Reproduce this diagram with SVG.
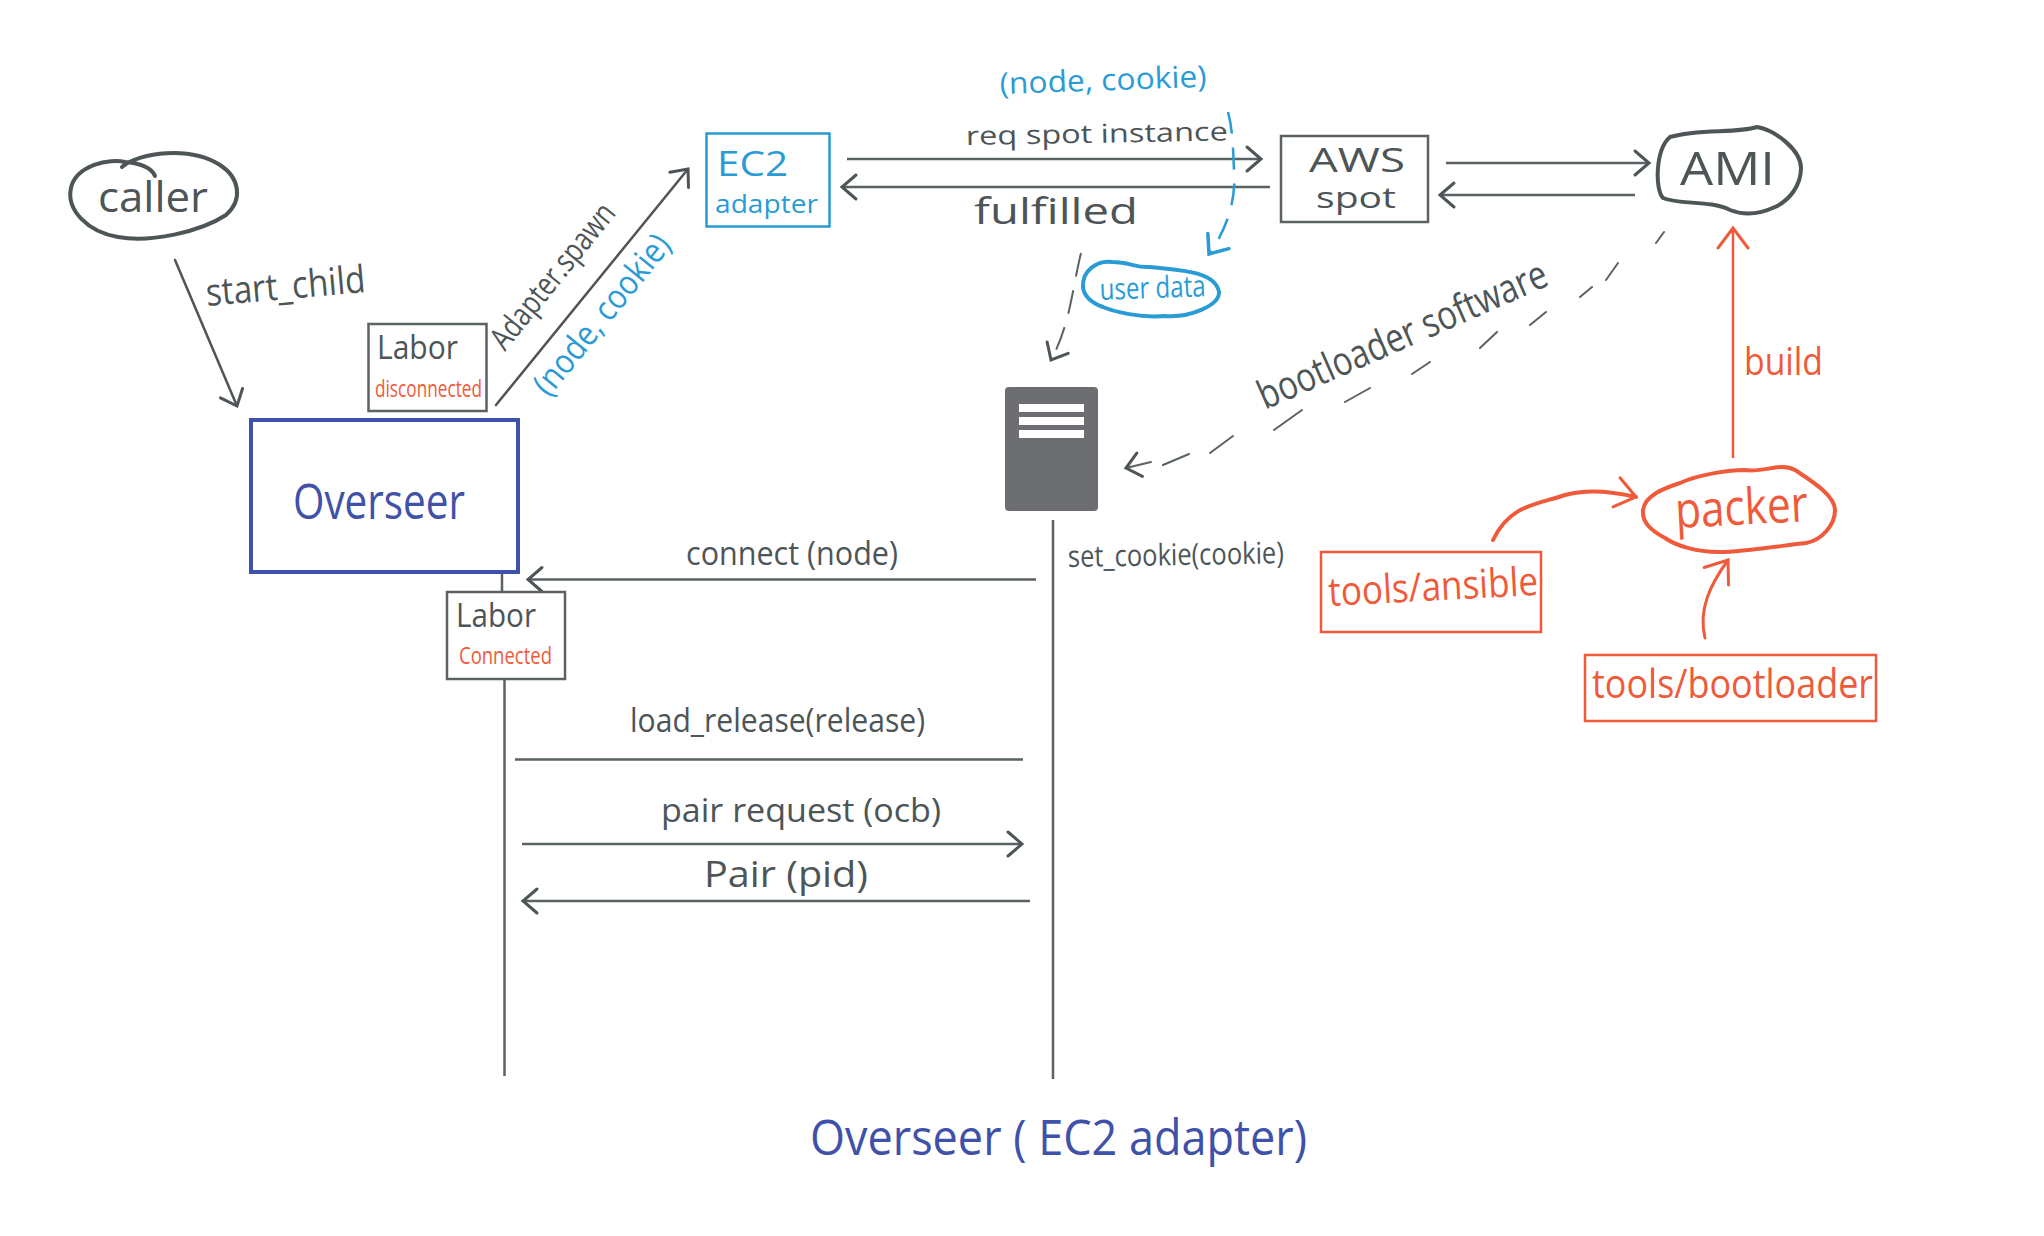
<svg xmlns="http://www.w3.org/2000/svg" width="2044" height="1236" viewBox="0 0 2044 1236">
<style>
text{font-family:"Open Sans","Liberation Sans",sans-serif;font-weight:400}
.g{fill:#4d5557}.b{fill:#2a9bd5}.n{fill:#3f51a8}.r{fill:#ee5a3a}
.box{fill:#fff;stroke:#5a6264;stroke-width:2.5}
.blob{fill:none;stroke:#4d5557;stroke-width:4;stroke-linecap:round}
.lg{fill:none;stroke:#5a6264;stroke-width:2.5}
.lr{fill:none;stroke:#ee5a3a;stroke-width:2.5}
.la{fill:none;stroke:#4d5557;stroke-width:2.5;stroke-linecap:round}
</style>
<defs>
<marker id="ag" markerUnits="userSpaceOnUse" markerWidth="34" markerHeight="40" refX="22" refY="20" orient="auto"><path d="M8 8L22 20L8 32" fill="none" stroke="#4d5557" stroke-width="3" stroke-linecap="round"/></marker>
<marker id="ab" markerUnits="userSpaceOnUse" markerWidth="34" markerHeight="40" refX="22" refY="20" orient="auto"><path d="M6 7L22 20L6 33" fill="none" stroke="#2a9bd5" stroke-width="3.5" stroke-linecap="round"/></marker>
<marker id="ar" markerUnits="userSpaceOnUse" markerWidth="40" markerHeight="40" refX="26" refY="20" orient="auto"><path d="M6 5L26 20L6 35" fill="none" stroke="#ee5a3a" stroke-width="3" stroke-linecap="round"/></marker>
</defs>
<rect width="2044" height="1236" fill="#fff"/>

<g id="connectors">
<path class="la" d="M175 260L237 406" marker-end="url(#ag)"/>
<path class="la" d="M496 405L688 169" marker-end="url(#ag)"/>
<path class="lg" d="M847 159H1261" marker-end="url(#ag)"/>
<path class="lg" d="M1270 187H842" marker-end="url(#ag)"/>
<path class="lg" d="M1446 163H1649" marker-end="url(#ag)"/>
<path class="lg" d="M1635 195H1440" marker-end="url(#ag)"/>
<path d="M1228 112C1233 130,1233 150,1234 170C1236 195,1230 225,1209 254" fill="none" stroke="#2a9bd5" stroke-width="2.5" stroke-dasharray="22 14" marker-end="url(#ab)"/>
<path d="M1081 253C1072 290,1070 325,1051 360" fill="none" stroke="#5a6264" stroke-width="2" stroke-dasharray="24 14" marker-end="url(#ag)"/>
<path d="M1664 232L1656 243M1618 263L1606 280M1592 287L1580 297M1546 312L1530 325M1497 332L1480 348M1430 362L1412 374M1370 388L1345 402M1302 410L1274 430M1233 436L1210 453M1189 454L1163 465M1151 462L1126 468" fill="none" stroke="#5a6264" stroke-width="2" stroke-linecap="round" marker-end="url(#ag)"/>
<path class="lr" d="M1733 458V228" marker-end="url(#ar)"/>
<path d="M1493 540C1510 505,1535 505,1565 495C1590 488,1615 492,1636 497" fill="none" stroke="#ee5a3a" stroke-width="4" stroke-linecap="round" marker-end="url(#ar)"/>
<path d="M1705 638C1698 610,1710 585,1728 560" fill="none" stroke="#ee5a3a" stroke-width="3" stroke-linecap="round" marker-end="url(#ar)"/>
<path class="lg" d="M502 572V592"/>
<path class="lg" d="M504.500 679V1076"/>
<path class="lg" d="M1053 520V1079"/>
<path class="lg" d="M1036 579.500H528" marker-end="url(#ag)"/>
<path class="lg" d="M515 759.500H1023"/>
<path class="lg" d="M522 844H1022" marker-end="url(#ag)"/>
<path class="lg" d="M1030 901H523" marker-end="url(#ag)"/>
</g>

<g id="caller">
<path class="blob" d="M122 167C140 152,190 146,220 165C240 178,243 200,226 215C200 232,150 243,118 237C88 232,66 210,71 188C76 165,110 158,125 162C140 163,152 168,155 176"/>
<text class="g" x="98" y="212" font-size="42" textLength="110" lengthAdjust="spacingAndGlyphs">caller</text>
</g>
<text id="label-start-child" class="g" x="207" y="306" font-size="38" textLength="160" lengthAdjust="spacingAndGlyphs" transform="rotate(-5 207 306)">start_child</text>

<g id="labor-disconnected">
<rect class="box" x="368.500" y="324" width="118" height="87"/>
<text class="g" x="377" y="359" font-size="32" textLength="81" lengthAdjust="spacingAndGlyphs">Labor</text>
<text class="r" x="375" y="397" font-size="23" textLength="107" lengthAdjust="spacingAndGlyphs">disconnected</text>
</g>

<g id="overseer">
<rect x="251" y="420" width="267" height="152" fill="#fff" stroke="#3f51a8" stroke-width="4"/>
<text class="n" x="293" y="519" font-size="50" textLength="172" lengthAdjust="spacingAndGlyphs">Overseer</text>
</g>

<text id="label-adapter-spawn" class="g" x="505" y="352" font-size="32" textLength="178" lengthAdjust="spacingAndGlyphs" transform="rotate(-51 505 352)">Adapter.spawn</text>
<text id="label-node-cookie-diag" class="b" x="549" y="398" font-size="34" textLength="196" lengthAdjust="spacingAndGlyphs" transform="rotate(-51 549 398)">(node, cookie)</text>

<g id="ec2-adapter">
<rect x="706.500" y="133.500" width="123" height="93" fill="#fff" stroke="#2a9bd5" stroke-width="2.500"/>
<text class="b" x="717" y="176" font-size="34" textLength="71" lengthAdjust="spacingAndGlyphs">EC2</text>
<text class="b" x="715" y="213" font-size="26" textLength="103" lengthAdjust="spacingAndGlyphs">adapter</text>
</g>

<text id="label-node-cookie-top" class="b" x="1000" y="94" font-size="30" textLength="207" lengthAdjust="spacingAndGlyphs" transform="rotate(-2 1000 94)">(node, cookie)</text>
<text id="label-req" class="g" x="966" y="145" font-size="26" textLength="262" lengthAdjust="spacingAndGlyphs" transform="rotate(-1 966 145)">req spot instance</text>
<text id="label-fulfilled" class="g" x="974" y="224" font-size="36" textLength="164" lengthAdjust="spacingAndGlyphs">fulfilled</text>

<g id="aws-spot">
<rect class="box" x="1281" y="136" width="147" height="86"/>
<text class="g" x="1309" y="172" font-size="32" textLength="96" lengthAdjust="spacingAndGlyphs">AWS</text>
<text class="g" x="1316" y="208" font-size="30" textLength="80" lengthAdjust="spacingAndGlyphs">spot</text>
</g>

<g id="ami">
<path class="blob" d="M1670 137C1700 128,1735 134,1757 127C1775 130,1801 150,1801 168C1801 185,1790 200,1775 207C1760 214,1745 216,1730 210C1710 200,1680 205,1663 198C1655 190,1655 150,1670 137Z"/>
<text class="g" x="1680" y="185" font-size="46" textLength="95" lengthAdjust="spacingAndGlyphs">AMI</text>
</g>

<g id="user-data">
<path d="M1083 287C1082 270,1098 260,1112 262C1130 262,1135 268,1150 267C1175 270,1215 270,1219 292C1220 305,1190 318,1165 316C1140 318,1115 312,1103 307C1092 303,1084 297,1083 287Z" fill="none" stroke="#2a9bd5" stroke-width="4"/>
<text class="b" x="1100" y="300" font-size="30" textLength="106" lengthAdjust="spacingAndGlyphs" transform="rotate(-2 1100 300)">user data</text>
</g>

<g id="server">
<rect x="1005" y="387" width="93" height="124" rx="4" fill="#6d6e71"/>
<rect x="1019" y="404" width="65" height="8" fill="#fff"/>
<rect x="1019" y="417" width="65" height="8" fill="#fff"/>
<rect x="1019" y="430" width="65" height="8" fill="#fff"/>
</g>

<text id="label-bootloader" class="g" x="1265" y="410" font-size="40" textLength="312" lengthAdjust="spacingAndGlyphs" transform="rotate(-23.700 1265 410)">bootloader software</text>
<text id="label-build" class="r" x="1744" y="375" font-size="38" textLength="79" lengthAdjust="spacingAndGlyphs">build</text>

<g id="packer">
<path d="M1643 510C1645 495,1665 488,1680 483C1700 474,1730 470,1745 470C1765 473,1780 462,1795 470C1810 480,1835 495,1835 510C1835 525,1822 540,1806 543C1785 545,1745 552,1719 552C1695 552,1675 545,1665 538C1650 530,1642 522,1643 510Z" fill="none" stroke="#ee5a3a" stroke-width="4"/>
<text class="r" x="1676" y="528" font-size="50" textLength="133" lengthAdjust="spacingAndGlyphs" transform="rotate(-3 1676 528)">packer</text>
</g>

<g id="tools-ansible">
<rect x="1321" y="552" width="220" height="80" fill="#fff" stroke="#ee5a3a" stroke-width="2.500"/>
<text class="r" x="1329" y="606" font-size="40" textLength="210" lengthAdjust="spacingAndGlyphs" transform="rotate(-3 1329 606)">tools/ansible</text>
</g>

<g id="tools-bootloader">
<rect x="1585" y="655" width="291" height="66" fill="#fff" stroke="#ee5a3a" stroke-width="2.500"/>
<text class="r" x="1592" y="698" font-size="40" textLength="281" lengthAdjust="spacingAndGlyphs">tools/bootloader</text>
</g>

<g id="labor-connected">
<rect class="box" x="447" y="592" width="118" height="87"/>
<text class="g" x="456" y="627" font-size="32" textLength="80" lengthAdjust="spacingAndGlyphs">Labor</text>
<text class="r" x="459" y="664" font-size="24" textLength="93" lengthAdjust="spacingAndGlyphs">Connected</text>
</g>

<text id="label-connect" class="g" x="686" y="565" font-size="32" textLength="212" lengthAdjust="spacingAndGlyphs">connect (node)</text>
<text id="label-set-cookie" class="g" x="1068" y="567" font-size="30" textLength="216" lengthAdjust="spacingAndGlyphs" transform="rotate(-1 1068 567)">set_cookie(cookie)</text>
<text id="label-load-release" class="g" x="630" y="732" font-size="32" textLength="295" lengthAdjust="spacingAndGlyphs">load_release(release)</text>
<text id="label-pair-request" class="g" x="661" y="822" font-size="32" textLength="280" lengthAdjust="spacingAndGlyphs">pair request (ocb)</text>
<text id="label-pair" class="g" x="704" y="887" font-size="36" textLength="164" lengthAdjust="spacingAndGlyphs">Pair (pid)</text>
<text id="title" class="n" x="810" y="1155" font-size="50" font-weight="700" textLength="497" lengthAdjust="spacingAndGlyphs">Overseer ( EC2 adapter)</text>
</svg>
